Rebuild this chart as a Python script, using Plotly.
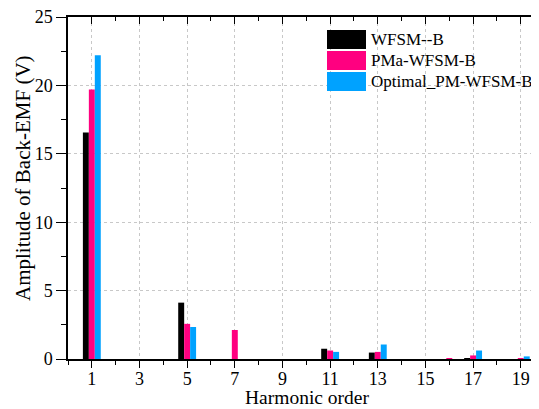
import plotly.graph_objects as go

harmonics = [1, 3, 5, 7, 9, 11, 13, 15, 16, 17, 19]
wfsm_b = [16.55, 0, 4.12, 0, 0, 0.75, 0.47, 0, 0, 0.06, 0]
pma_wfsm_b = [19.7, 0, 2.57, 2.12, 0, 0.62, 0.52, 0, 0.07, 0.26, 0.07]
optimal_pm_wfsm_b = [22.2, 0, 2.34, 0, 0, 0.52, 1.06, 0, 0, 0.62, 0.19]

series_names = ["WFSM--B", "PMa-WFSM-B", "Optimal_PM-WFSM-B"]
series_values = [wfsm_b, pma_wfsm_b, optimal_pm_wfsm_b]
series_colors = ["#000000", "#FF0080", "#00A2FF"]

x_tickvals = [1, 3, 5, 7, 9, 11, 13, 15, 17, 19]
x_ticktext = [str(v) for v in x_tickvals]
y_tickvals = [0, 5, 10, 15, 20, 25]
x_title = "Harmonic order"
y_title = "Amplitude of Back-EMF (V)"

FONT = "'Liberation Serif', Tinos, 'Times New Roman', 'DejaVu Serif', serif"

# page body has an 8px margin: compensate
OFF = 8
W, H = 539 - OFF, 409 - OFF
ml, mr, mt, mb = 68 - OFF, 0, 17 - OFF, 50
pw, ph = W - ml - mr, H - mt - mb

def px_x(p):
    return (p - OFF - ml) / pw
def px_y(p):
    return (H + OFF - mb - p) / ph

fig = go.Figure()
for name, vals, col in zip(series_names, series_values, series_colors):
    fig.add_trace(go.Bar(x=harmonics, y=vals, name=name, marker_color=col,
                         marker_line_width=0, showlegend=False))

# custom legend with large swatches
rows = [(30, 49), (51, 70), (72, 91)]
for (y0, y1), name, col in zip(rows, series_names, series_colors):
    fig.add_shape(type="rect", xref="paper", yref="paper",
                  x0=px_x(327), x1=px_x(366), y0=px_y(y1), y1=px_y(y0),
                  fillcolor=col, line_width=0)
    fig.add_annotation(xref="paper", yref="paper", x=px_x(369), y=px_y((y0 + y1) / 2),
                       text=name, showarrow=False, xanchor="left", yanchor="middle",
                       font=dict(family=FONT, size=17, color="#000000"))

# axis titles
fig.add_annotation(xref="paper", yref="paper", x=px_x(307), y=px_y(397),
                   text=x_title, showarrow=False, xanchor="center", yanchor="middle",
                   font=dict(family=FONT, size=19.5, color="#000000"))
fig.add_annotation(xref="paper", yref="paper", x=px_x(23), y=px_y(178),
                   text=y_title, showarrow=False, xanchor="center", yanchor="middle",
                   textangle=-90, font=dict(family=FONT, size=21, color="#000000"))

xmax = pw / 23.83
fig.update_layout(
    width=W, height=H,
    margin=dict(l=ml, r=mr, t=mt, b=mb, pad=0, autoexpand=False),
    paper_bgcolor="white", plot_bgcolor="white",
    barmode="group", bargap=0.25, bargroupgap=0,
    font=dict(family=FONT, size=18, color="#000000"),
    xaxis=dict(
        range=[0, xmax], tickvals=x_tickvals, ticktext=x_ticktext,
        ticks="outside", ticklen=7, tickwidth=1, tickcolor="black",
        minor=dict(dtick=1, tick0=0, ticks="outside", ticklen=4, tickcolor="black", showgrid=False),
        showline=True, linecolor="black", linewidth=1.5,
        showgrid=True, gridcolor="#c8c8c8", griddash="dot", gridwidth=1,
        zeroline=False, automargin=False, ticklabeloverflow="allow",
        ticklabelstandoff=-4,
        tickfont=dict(family=FONT, size=18),
    ),
    xaxis2=dict(
        overlaying="x", matches="x", side="top", range=[0, xmax],
        tickvals=x_tickvals, ticks="inside", ticklen=7, tickcolor="black",
        minor=dict(dtick=1, tick0=0, ticks="inside", ticklen=4, tickcolor="black", showgrid=False),
        showticklabels=False, showline=True, linecolor="black", linewidth=1.5,
        showgrid=False, zeroline=False, automargin=False,
    ),
    yaxis=dict(
        range=[0, 25], tickvals=y_tickvals,
        ticks="outside", ticklen=10, tickwidth=1, tickcolor="black",
        minor=dict(dtick=2.5, tick0=0, ticks="outside", ticklen=5, tickcolor="black", showgrid=False),
        showline=True, linecolor="black", linewidth=1.5,
        showgrid=True, gridcolor="#c8c8c8", griddash="dot", gridwidth=1,
        zeroline=False, automargin=False, ticklabeloverflow="allow",
        tickfont=dict(family=FONT, size=18),
    ),
)
fig.add_trace(go.Scatter(x=[], y=[], xaxis="x2", showlegend=False))

fig.write_html("out.html")
